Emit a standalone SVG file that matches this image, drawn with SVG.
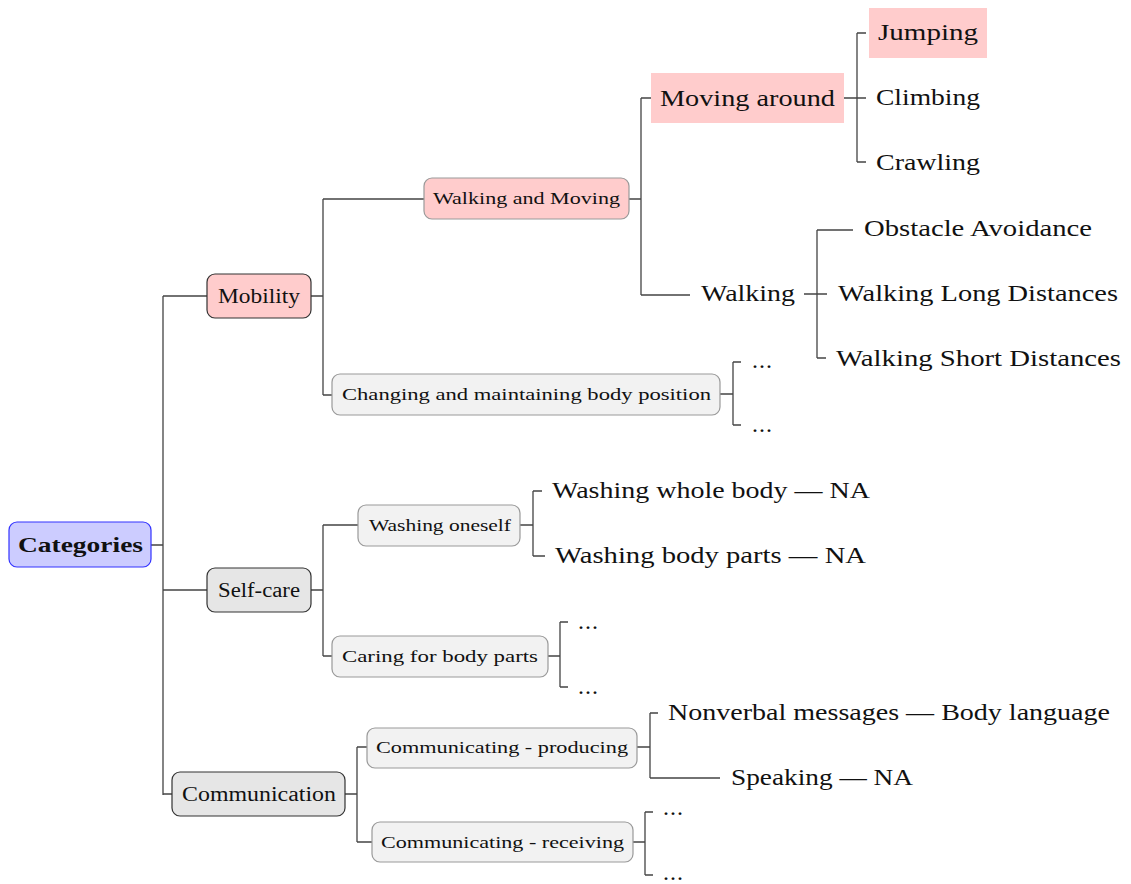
<svg xmlns="http://www.w3.org/2000/svg" width="1131" height="884" viewBox="0 0 1131 884">
<style>
text{font-family:"Liberation Serif","DejaVu Serif",serif;fill:#111}
.l1{font-size:20px}
.l2{font-size:17px}
.lf{font-size:24px}
.root{font-size:22px;font-weight:bold}
.c path,.c line{stroke:#444;stroke-width:1.3;fill:none}
.b1{stroke:#333;stroke-width:1.2}
.b2{stroke:#999;stroke-width:1.2}
</style>
<rect width="1131" height="884" fill="#fff"/>
<g class="c" id="connectors">
<path d="M151 545H163M163 296V795M163 296H207M163 590H207M163 794H172"/>
<path d="M311 296H323M323 199V395M323 199H424M323 395H332"/>
<path d="M629 199H641M641 98V295M641 98H651M641 295H690"/>
<path d="M844 98H866M857 33V162M857 33H866M857 162H866"/>
<path d="M804 294H827M817 230V358M817 230H853M817 358H826"/>
<path d="M720 394H733M733 362V425M733 362H741M733 425H741"/>
<path d="M311 590H323M323 525V656M323 525H358M323 656H332"/>
<path d="M520 525H533M533 491V556M533 491H542M533 556H545"/>
<path d="M548 656H560M560 622V687M560 622H568M560 687H568"/>
<path d="M345 794H357M357 747V842M357 747H367M357 842H372"/>
<path d="M637 747H650M650 713V778M650 713H658M650 778H720"/>
<path d="M633 842H645M645 812V875M645 812H653M645 875H653"/>
</g>
<g id="categories"><rect x="9" y="522" width="142" height="45" rx="8" fill="#ccccff" stroke="#3333ff" stroke-width="1.2"/><text class="root" x="18" y="552" textLength="125" lengthAdjust="spacingAndGlyphs">Categories</text></g>
<g id="mobility"><rect class="b1" x="207" y="274" width="104" height="44" rx="8" fill="#ffcccc"/><text class="l1" x="218" y="303" textLength="82" lengthAdjust="spacingAndGlyphs">Mobility</text></g>
<g id="selfcare"><rect class="b1" x="207" y="568" width="104" height="44" rx="8" fill="#e6e6e6"/><text class="l1" x="218" y="597" textLength="82" lengthAdjust="spacingAndGlyphs">Self-care</text></g>
<g id="communication"><rect class="b1" x="172" y="772" width="173" height="44" rx="8" fill="#e6e6e6"/><text class="l1" x="182" y="801" textLength="154" lengthAdjust="spacingAndGlyphs">Communication</text></g>
<g id="walkingmoving"><rect class="b2" x="424" y="178" width="205" height="41" rx="8" fill="#ffcccc"/><text class="l2" x="433" y="204" textLength="187" lengthAdjust="spacingAndGlyphs">Walking and Moving</text></g>
<g id="changing"><rect class="b2" x="332" y="374" width="388" height="41" rx="8" fill="#f2f2f2"/><text class="l2" x="342" y="400" textLength="369" lengthAdjust="spacingAndGlyphs">Changing and maintaining body position</text></g>
<g id="washing"><rect class="b2" x="358" y="505" width="162" height="41" rx="8" fill="#f2f2f2"/><text class="l2" x="369" y="531" textLength="142" lengthAdjust="spacingAndGlyphs">Washing oneself</text></g>
<g id="caring"><rect class="b2" x="332" y="636" width="216" height="41" rx="8" fill="#f2f2f2"/><text class="l2" x="342" y="662" textLength="196" lengthAdjust="spacingAndGlyphs">Caring for body parts</text></g>
<g id="producing"><rect class="b2" x="367" y="728" width="270" height="40" rx="8" fill="#f2f2f2"/><text class="l2" x="376" y="753" textLength="252" lengthAdjust="spacingAndGlyphs">Communicating - producing</text></g>
<g id="receiving"><rect class="b2" x="372" y="822" width="261" height="40" rx="8" fill="#f2f2f2"/><text class="l2" x="381" y="848" textLength="243" lengthAdjust="spacingAndGlyphs">Communicating - receiving</text></g>
<g id="movingaround"><rect x="651" y="73" width="193" height="50" fill="#ffcccc"/><text class="lf" x="660" y="106" textLength="175" lengthAdjust="spacingAndGlyphs">Moving around</text></g>
<g id="jumping"><rect x="869" y="8" width="118" height="50" fill="#ffcccc"/><text class="lf" x="878" y="40" textLength="100" lengthAdjust="spacingAndGlyphs">Jumping</text></g>
<g id="climbing"><text class="lf" x="876" y="105" textLength="104" lengthAdjust="spacingAndGlyphs">Climbing</text></g>
<g id="crawling"><text class="lf" x="876" y="170" textLength="104" lengthAdjust="spacingAndGlyphs">Crawling</text></g>
<g id="walking"><text class="lf" x="701" y="301" textLength="94" lengthAdjust="spacingAndGlyphs">Walking</text></g>
<g id="obstacle"><text class="lf" x="864" y="236" textLength="228" lengthAdjust="spacingAndGlyphs">Obstacle Avoidance</text></g>
<g id="walklong"><text class="lf" x="838" y="301" textLength="280" lengthAdjust="spacingAndGlyphs">Walking Long Distances</text></g>
<g id="walkshort"><text class="lf" x="836" y="366" textLength="285" lengthAdjust="spacingAndGlyphs">Walking Short Distances</text></g>
<g id="chg1"><text class="lf" x="752" y="368" textLength="20">...</text></g>
<g id="chg2"><text class="lf" x="752" y="432" textLength="20">...</text></g>
<g id="washwhole"><text class="lf" x="552" y="498" textLength="318" lengthAdjust="spacingAndGlyphs">Washing whole body — NA</text></g>
<g id="washparts"><text class="lf" x="555" y="563" textLength="311" lengthAdjust="spacingAndGlyphs">Washing body parts — NA</text></g>
<g id="car1"><text class="lf" x="578" y="629" textLength="20">...</text></g>
<g id="car2"><text class="lf" x="578" y="694" textLength="20">...</text></g>
<g id="nonverbal"><text class="lf" x="668" y="720" textLength="442" lengthAdjust="spacingAndGlyphs">Nonverbal messages — Body language</text></g>
<g id="speaking"><text class="lf" x="731" y="785" textLength="182" lengthAdjust="spacingAndGlyphs">Speaking — NA</text></g>
<g id="rec1"><text class="lf" x="663" y="815" textLength="20">...</text></g>
<g id="rec2"><text class="lf" x="663" y="880" textLength="20">...</text></g>
</svg>
